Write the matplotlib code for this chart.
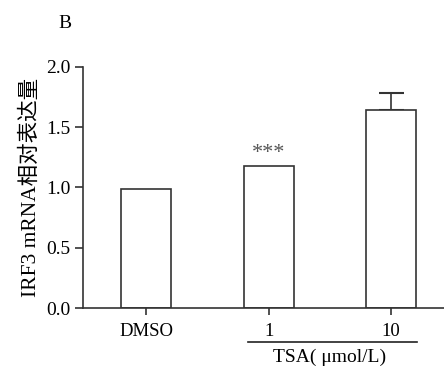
import matplotlib
matplotlib.use("Agg")
import matplotlib.pyplot as plt
from matplotlib.transforms import blended_transform_factory

plt.rcParams['font.family'] = ['Liberation Serif', 'Noto Sans CJK SC']

categories = ["DMSO", "1", "10"]
values = [0.99, 1.18, 1.645]
err_upper = [0.0, 0.0, 0.135]
signif = ["", "***", ""]
yticks = [0.0, 0.5, 1.0, 1.5, 2.0]
ylabel = "IRF3 mRNA相对表达量"
group_label = "TSA( μmol/L)"
panel = "B"

edge = "#333333"
fig = plt.figure(figsize=(4.44, 3.68), dpi=100)
ax = fig.add_axes([0.187, 0.163, 0.813, 0.655])
x = list(range(len(categories)))
ax.bar(x, values, width=0.41, color="white", edgecolor=edge, linewidth=1.2, zorder=2)
for xi, v, e in zip(x, values, err_upper):
    if e > 0:
        ax.errorbar([xi], [v], yerr=[[0], [e]], fmt="none", ecolor=edge,
                    elinewidth=1.2, capsize=9, capthick=1.5, zorder=1)
for xi, v, s in zip(x, values, signif):
    if s:
        ax.text(xi, v + 0.02, s, ha="center", va="bottom", fontsize=16, color="#555555")

ax.set_xlim(-0.514, 2.43)
ax.set_ylim(0, 2.0)
ax.set_yticks(yticks)
ax.set_yticklabels([f"{t:.1f}" for t in yticks])
ax.set_xticks(x)
ax.set_xticklabels(categories)
for s in ["top", "right"]:
    ax.spines[s].set_visible(False)
for s in ["left", "bottom"]:
    ax.spines[s].set_linewidth(1.2)
    ax.spines[s].set_color(edge)
ax.tick_params(axis="y", length=6, width=1.2, color=edge, labelsize=14, pad=3)
ax.tick_params(axis="x", length=5, width=1.2, color=edge, labelsize=13.5, pad=6)
ax.set_ylabel(ylabel, fontsize=15.5, labelpad=4)

tr = blended_transform_factory(ax.transData, ax.transAxes)
ax.plot([0.83, 2.21], [-0.141, -0.141], color="#222222", lw=1.2, transform=tr, clip_on=False)
ax.text(1.5, -0.205, group_label, transform=tr, ha="center", va="center", fontsize=14)

fig.text(65/444, 1 - 24/368, panel, ha="center", va="center", fontsize=14)
fig.savefig("out.png", dpi=100)
